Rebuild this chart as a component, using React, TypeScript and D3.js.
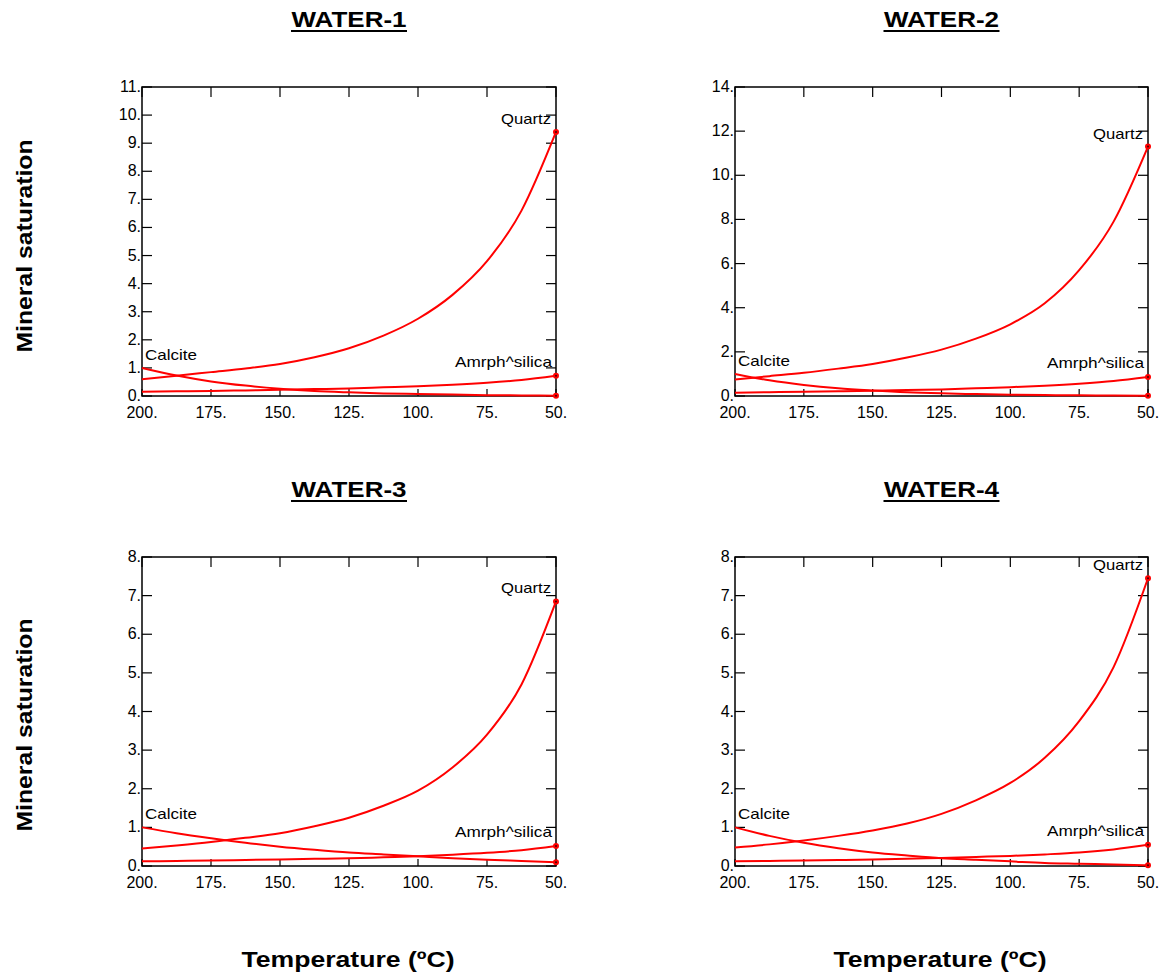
import React from 'react'
import * as d3 from 'd3'

const temps = [200, 187.5, 175, 162.5, 150, 137.5, 125, 112.5, 100, 87.5, 75, 62.5, 50]
const xTicks = [200, 175, 150, 125, 100, 75, 50]

const titles = ['WATER-1', 'WATER-2', 'WATER-3', 'WATER-4']
const yMaxes = [11, 14, 8, 8]
const yTickSteps = [1, 2, 1, 1]

const quartz = [
  [0.6, 0.72, 0.85, 0.98, 1.14, 1.38, 1.7, 2.15, 2.75, 3.6, 4.8, 6.6, 9.4],
  [0.75, 0.9, 1.05, 1.24, 1.45, 1.74, 2.1, 2.6, 3.25, 4.2, 5.7, 7.9, 11.3],
  [0.45, 0.53, 0.62, 0.73, 0.85, 1.03, 1.25, 1.56, 1.95, 2.55, 3.4, 4.7, 6.85],
  [0.48, 0.56, 0.66, 0.78, 0.92, 1.1, 1.35, 1.7, 2.15, 2.8, 3.75, 5.15, 7.45],
]
const calcite = [
  [1.0, 0.73, 0.52, 0.37, 0.26, 0.18, 0.13, 0.09, 0.07, 0.05, 0.03, 0.02, 0.01],
  [1.0, 0.71, 0.5, 0.35, 0.25, 0.17, 0.12, 0.085, 0.06, 0.04, 0.03, 0.02, 0.01],
  [1.0, 0.85, 0.72, 0.6, 0.5, 0.42, 0.35, 0.3, 0.25, 0.2, 0.16, 0.13, 0.1],
  [1.0, 0.78, 0.6, 0.46, 0.35, 0.27, 0.2, 0.16, 0.12, 0.08, 0.06, 0.04, 0.02],
]
const silica = [
  [0.15, 0.165, 0.18, 0.2, 0.22, 0.245, 0.27, 0.31, 0.35, 0.4, 0.47, 0.57, 0.72],
  [0.15, 0.17, 0.19, 0.215, 0.24, 0.27, 0.3, 0.35, 0.4, 0.47, 0.56, 0.68, 0.86],
  [0.12, 0.13, 0.14, 0.155, 0.17, 0.185, 0.2, 0.225, 0.25, 0.29, 0.34, 0.41, 0.52],
  [0.12, 0.13, 0.14, 0.155, 0.17, 0.19, 0.21, 0.235, 0.26, 0.3, 0.35, 0.43, 0.55],
]

const RED = '#ff0000'
const FONT = '"Liberation Sans", Arial, sans-serif'

// plot boxes
const boxes = [
  { left: 142, right: 556, top: 87, bottom: 396 },
  { left: 735, right: 1148, top: 87, bottom: 396 },
  { left: 142, right: 556, top: 557, bottom: 866 },
  { left: 735, right: 1148, top: 557, bottom: 866 },
]

function Panel({ i }: { i: number }) {
  const b = boxes[i]
  const x = d3.scaleLinear().domain([200, 50]).range([b.left, b.right])
  const y = d3.scaleLinear().domain([0, yMaxes[i]]).range([b.bottom, b.top])
  const yTicks = d3.range(0, yMaxes[i] + 0.001, yTickSteps[i])
  const line = d3.line<number>()
    .x((_, j) => x(temps[j]))
    .y((d) => y(d))
    .curve(d3.curveMonotoneX)
  const series = [quartz[i], calcite[i], silica[i]]
  const last = temps.length - 1
  const cx = (b.left + b.right) / 2
  const qEnd = quartz[i][last]
  const sEnd = silica[i][last]

  return (
    <g>
      <text x={cx} y={b.top - 60} textAnchor="middle" fontFamily={FONT} fontWeight="bold"
        fontSize={22} textLength={115} lengthAdjust="spacingAndGlyphs">{titles[i]}</text>
      <line x1={cx - 58} x2={cx + 58} y1={b.top - 56} y2={b.top - 56} stroke="#000" strokeWidth={2} />

      <rect x={b.left} y={b.top} width={b.right - b.left} height={b.bottom - b.top}
        fill="none" stroke="#000" strokeWidth={1.5} />

      {yTicks.map((t) => (
        <g key={'y' + t}>
          <line x1={b.left} x2={b.left + 10} y1={y(t)} y2={y(t)} stroke="#000" strokeWidth={1.2} />
          <line x1={b.right - 10} x2={b.right} y1={y(t)} y2={y(t)} stroke="#000" strokeWidth={1.2} />
          <text x={b.left - 1} y={y(t) + 5} textAnchor="end" fontFamily={FONT} fontSize={16}>{t}.</text>
        </g>
      ))}
      {xTicks.map((t) => (
        <g key={'x' + t}>
          <line x1={x(t)} x2={x(t)} y1={b.top} y2={b.top + 10} stroke="#000" strokeWidth={1.2} />
          <line x1={x(t)} x2={x(t)} y1={b.bottom - 7} y2={b.bottom} stroke="#000" strokeWidth={1.2} />
          <text x={x(t)} y={b.bottom + 22} textAnchor="middle" fontFamily={FONT} fontSize={16}>{t}.</text>
        </g>
      ))}

      {series.map((s, k) => (
        <path key={k} d={line(s) || ''} fill="none" stroke={RED} strokeWidth={2} />
      ))}
      {series.map((s, k) => (
        <g key={'d' + k}>
          <circle cx={x(temps[last])} cy={y(s[last])} r={3} fill={RED} />
          <circle cx={x(temps[last])} cy={y(s[last])} r={1} fill="#400" />
        </g>
      ))}

      <text x={b.left + 3} y={y(calcite[i][0]) - 8} fontFamily={FONT} fontSize={15}
        textLength={52} lengthAdjust="spacingAndGlyphs">Calcite</text>
      <text x={b.right - 5} y={y(qEnd) - 8} textAnchor="end" fontFamily={FONT} fontSize={15}
        textLength={50} lengthAdjust="spacingAndGlyphs">Quartz</text>
      <text x={b.right - 4} y={y(sEnd) - 9} textAnchor="end" fontFamily={FONT} fontSize={15}
        textLength={97} lengthAdjust="spacingAndGlyphs">Amrph^silica</text>
    </g>
  )
}

export default function App() {
  return (
    <div style={{ position: 'absolute', left: 0, top: 0 }}>
      <svg width={1163} height={980} style={{ display: 'block', background: '#fff' }}>
        {[0, 1, 2, 3].map((i) => <Panel key={i} i={i} />)}
        {[246, 725].map((cy) => (
          <text key={cy} transform={`translate(32,${cy}) rotate(-90)`} textAnchor="middle"
            fontFamily={FONT} fontWeight="bold" fontSize={22} textLength={213}
            lengthAdjust="spacingAndGlyphs">Mineral saturation</text>
        ))}
        {[348, 940].map((cx) => (
          <text key={cx} x={cx} y={967} textAnchor="middle" fontFamily={FONT} fontWeight="bold"
            fontSize={22} textLength={213} lengthAdjust="spacingAndGlyphs">Temperature (ºC)</text>
        ))}
      </svg>
    </div>
  )
}
